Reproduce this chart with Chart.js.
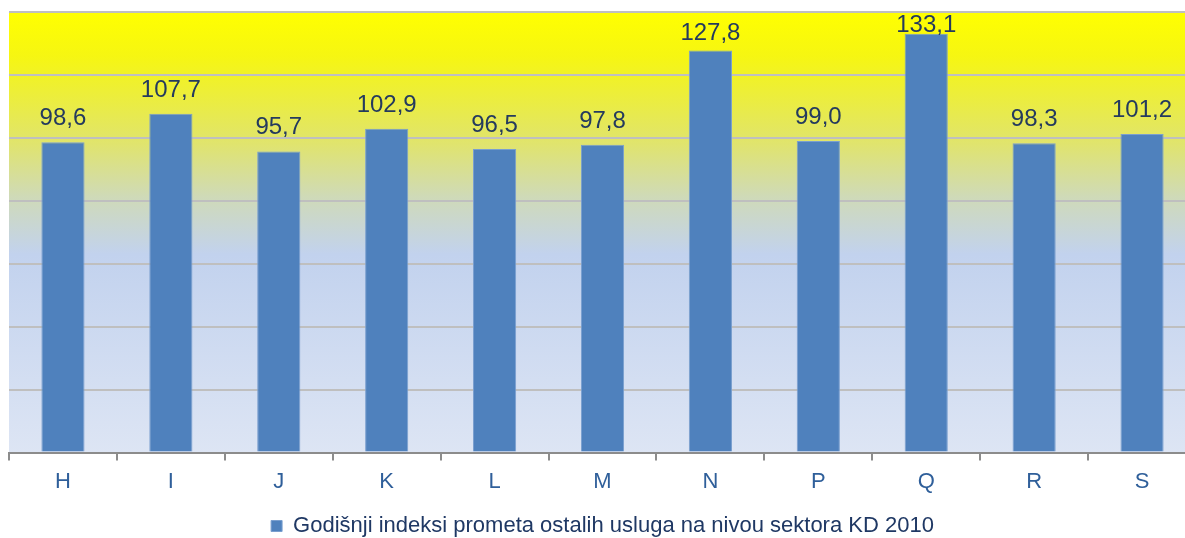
<!DOCTYPE html>
<html>
<head>
<meta charset="utf-8">
<script src="https://cdn.jsdelivr.net/npm/chart.js@4"></script>
<style>
    html, body { margin: 0; padding: 0; background: #fff; overflow: hidden; }
    #wrap { width: 1196px; height: 547px; }
</style>
</head>
<body>
<div id="wrap"><canvas id="myChart" width="1196" height="547"></canvas></div>
<script>
const labels = ['H', 'I', 'J', 'K', 'L', 'M', 'N', 'P', 'Q', 'R', 'S'];
const values = [98.6, 107.7, 95.7, 102.9, 96.5, 97.8, 127.8, 99.0, 133.1, 98.3, 101.2];
const seriesName = 'Godišnji indeksi prometa ostalih usluga na nivou sektora KD 2010';

// background gradient behind the plot
const plotBackground = {
    id: 'plotBackground',
    beforeDraw(chart) {
        const { ctx, chartArea } = chart;
        const g = ctx.createLinearGradient(0, chartArea.top, 0, chartArea.bottom);
        g.addColorStop(0, '#ffff00');
        g.addColorStop(0.1, '#f6f612');
        g.addColorStop(0.3, '#e0e46e');
        g.addColorStop(0.42, '#cfdab8');
        g.addColorStop(0.55, '#c2d2ee');
        g.addColorStop(1, '#dde5f4');
        ctx.save();
        ctx.fillStyle = g;
        ctx.fillRect(chartArea.left, chartArea.top, chart.width - chartArea.left, chartArea.bottom - chartArea.top);
        ctx.restore();
    }
};

// value labels above the bars, pushed down when close to the top
const barValues = {
    id: 'barValues',
    afterDatasetsDraw(chart) {
        const { ctx, chartArea } = chart;
        const meta = chart.getDatasetMeta(0);
        ctx.save();
        ctx.font = '24px "Liberation Sans", Arial, sans-serif';
        ctx.fillStyle = '#243a5e';
        ctx.textAlign = 'center';
        ctx.textBaseline = 'alphabetic';
        meta.data.forEach((bar, i) => {
            let y = bar.y - 17;
            if (y < chartArea.top + 35) y = Math.max(bar.y - 10, chartArea.top + 20);
            ctx.fillText(values[i].toFixed(1).replace('.', ','), bar.x, y);
        });
        ctx.restore();
    }
};

const data = {
    labels: labels,
    datasets: [{
        label: seriesName,
        backgroundColor: '#4f81bd',
        borderColor: '#7a9fcf',
        borderWidth: 1,
        categoryPercentage: 1,
        barPercentage: 0.4,
        data: values,
    }]
};

const config = {
    type: 'bar',
    data: data,
    options: {
        responsive: false,
        animation: false,
        layout: { padding: { left: 9, top: 12, right: 0, bottom: 0 } },
        scales: {
            x: {
                grid: { display: true, drawOnChartArea: false, offset: true, color: '#8c8c8c', tickLength: 8, lineWidth: 2 },
                border: { color: '#8c8c8c', width: 2 },
                ticks: {
                    color: '#2f5f9a',
                    padding: 8,
                    font: { family: '"Liberation Sans", Arial, sans-serif', size: 22 }
                }
            },
            y: {
                min: 0,
                max: 140,
                ticks: { display: false, stepSize: 20 },
                border: { display: false },
                grid: { color: '#bfbfbf', lineWidth: 2, drawTicks: false }
            }
        },
        plugins: {
            tooltip: { enabled: false },
            legend: {
                position: 'bottom',
                labels: {
                    boxWidth: 11,
                    boxHeight: 11,
                    padding: 12,
                    color: '#1f3864',
                    font: { family: '"Liberation Sans", Arial, sans-serif', size: 22 }
                }
            }
        }
    },
    plugins: [plotBackground, barValues]
};

const myChart = new Chart(document.getElementById('myChart'), config);
</script>
</body>
</html>
